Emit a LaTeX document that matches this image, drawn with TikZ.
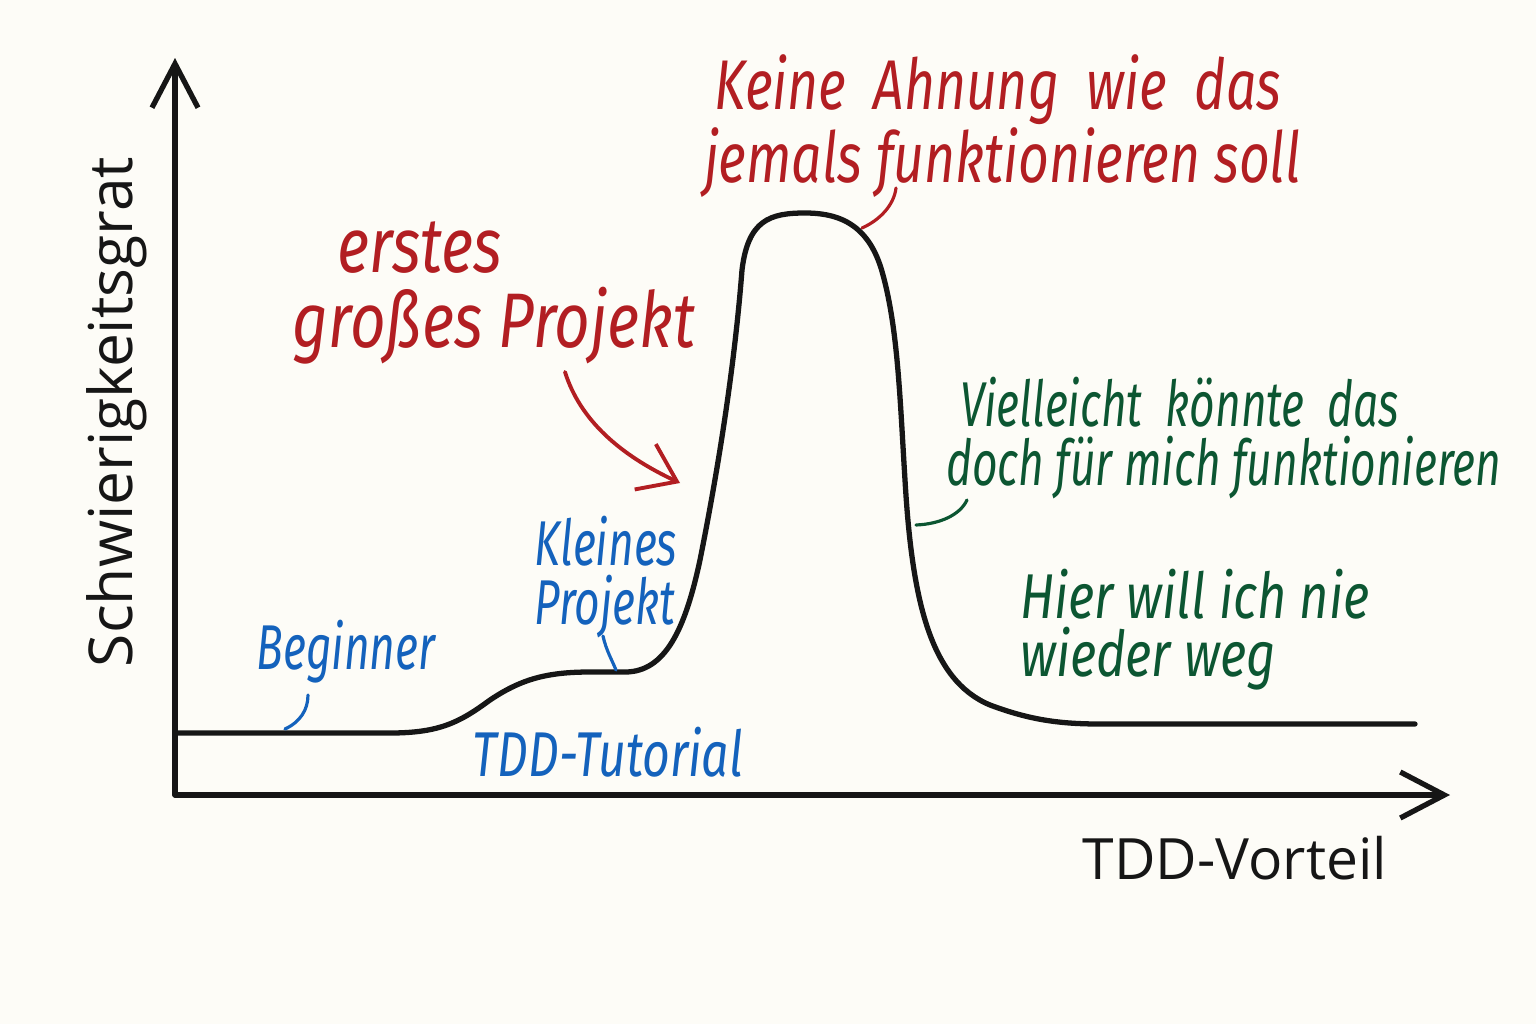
\documentclass[tikz,border=0pt]{standalone}
\usepackage{fontspec}
\setmainfont{Open Sans}
\newfontfamily\handfont{Fira Sans}[FakeStretch=0.76]
\newfontfamily\handnarrow{Fira Sans}[FakeStretch=0.70]
\newfontfamily\handwide{Fira Sans}[FakeStretch=0.80]
\usetikzlibrary{arrows.meta, positioning}
\definecolor{paper}{RGB}{253,252,247}
\definecolor{peakred}{RGB}{178,30,34}
\definecolor{easyblue}{RGB}{20,98,188}
\definecolor{calmgreen}{RGB}{12,86,50}
\definecolor{inkblack}{RGB}{22,22,22}

\begin{document}
\begin{tikzpicture}[
    x=0.01cm, y=-0.01cm,
    every node/.style={inner sep=0pt, outer sep=0pt},
    axis/.style={inkblack, line width=1.5pt, line cap=round, -{Straight Barb[length=4.4mm, width=4.6mm, line width=1.5pt]}},
    curve/.style={inkblack, line width=1.5pt, line cap=round},
    leader/.style={line width=0.9pt, line cap=round},
    note/.style={font=\handfont\itshape\fontsize{18}{17}\selectfont, align=left},
    narrownote/.style={font=\handnarrow\itshape\fontsize{18}{17}\selectfont, align=left},
    bignote/.style={font=\handwide\itshape\fontsize{22}{20}\selectfont, text=peakred},
    axislabel/.style={font=\fontsize{16.2}{20}\selectfont, text=inkblack}
]
\fill[paper] (0,0) rectangle (1536,1024);
\useasboundingbox (0,0) rectangle (1536,1024);

% axes
\coordinate (origin) at (175,795);
\coordinate (ytip) at (175,58);
\coordinate (xtip) at (1450,795);
\draw[axis] (origin) -- (ytip);
\draw[axis] (origin) -- (xtip);
\node[axislabel, font=\fontsize{17.2}{20}\selectfont, rotate=90] (ylabel) at (117,412) {Schwierigkeitsgrat};
\node[axislabel] (xlabel) at (1235,858) {TDD-Vorteil};

% the curve
\draw[curve] (175,733) -- (390,733)
  .. controls (440,733) and (460,722) .. (490,700)
  .. controls (520,680) and (545,672) .. (590,672)
  -- (625,672)
  .. controls (665,672) and (685,630) .. (700,560)
  .. controls (720,460) and (735,360) .. (742,270)
  .. controls (748,220) and (770,213) .. (805,213)
  .. controls (840,213) and (870,225) .. (883,275)
  .. controls (898,330) and (900,400) .. (905,480)
  .. controls (912,600) and (930,680) .. (990,705)
  .. controls (1030,720) and (1060,724) .. (1100,724)
  -- (1415,724);

% points on the curve
\coordinate (beginnerPt) at (285,729);
\coordinate (kleinesPt) at (616,670);
\coordinate (peakPt) at (862,228);
\coordinate (doubtPt) at (916,525);
\coordinate (bigArrowTip) at (680,483);

% labels
\node[narrownote, text=easyblue] (beginner) at (346,652) {Beginner};
\node[note, text=easyblue] (tutorial) at (608,752) {TDD-Tutorial};
\node[narrownote, text=easyblue] (kleines) at (606,577) {Kleines\\Projekt};
\node[bignote] (erstes) at (420,248) {erstes};
\node[bignote] (grosses) at (494,326) {großes Projekt};
\node[text=peakred, align=left, anchor=west, font=\handfont\itshape\fontsize{20}{18.5}\selectfont] (ahnung) at (704,126) {\hspace*{3pt}Keine\ \ Ahnung\ \ wie\ \ das\\jemals funktionieren soll};
\node[narrownote, text=calmgreen, anchor=west] (vielleicht) at (946,438) {\hspace*{4pt}Vielleicht\ \ könnte\ \ das\\doch für mich funktionieren};
\node[note, font=\handwide\itshape\fontsize{18}{16.5}\selectfont, text=calmgreen, anchor=west] (hier) at (1020,630) {Hier will ich nie\\wieder weg};

% leaders
\coordinate (beginnerTail) at (308,695);
\coordinate (kleinesTail) at (603,636);
\coordinate (ahnungTail) at (896,188);
\coordinate (vielleichtTail) at (967,500);
\coordinate (grossesTail) at (565,372);
\draw[leader, easyblue] (beginnerTail) .. controls (308,710) and (300,722) .. (beginnerPt);
\draw[leader, easyblue] (kleinesTail) .. controls (606,650) and (612,660) .. (kleinesPt);
\draw[leader, peakred] (ahnungTail) .. controls (894,205) and (880,220) .. (peakPt);
\draw[leader, calmgreen] (vielleichtTail) .. controls (960,515) and (940,524) .. (doubtPt);
\draw[leader, peakred, line width=1.1pt, -{Straight Barb[length=3.5mm, width=5mm, line width=1.1pt]}] (grossesTail) .. controls (580,420) and (620,455) .. (bigArrowTip);
\end{tikzpicture}
\end{document}
